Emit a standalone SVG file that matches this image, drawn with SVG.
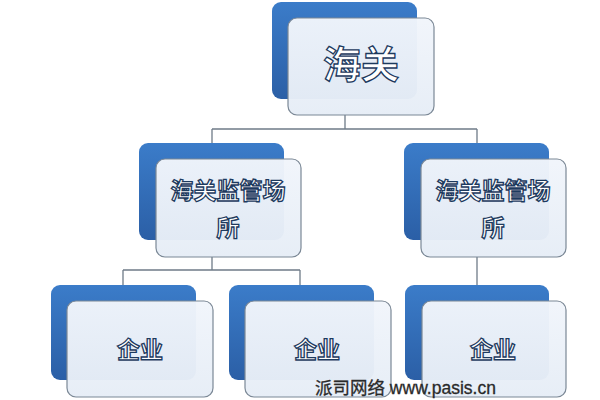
<svg xmlns="http://www.w3.org/2000/svg" width="600" height="400" viewBox="0 0 600 400">
<defs>
<linearGradient id="blue" x1="0" y1="0" x2="0" y2="1">
<stop offset="0" stop-color="#3b7cc9"/>
<stop offset="1" stop-color="#2b5fa6"/>
</linearGradient>
<linearGradient id="front" x1="0" y1="0" x2="0" y2="1">
<stop offset="0" stop-color="#f1f5fb"/>
<stop offset="1" stop-color="#e6edf6"/>
</linearGradient>
</defs>
<style>
.back{fill:url(#blue);}
.face{fill:url(#front);fill-opacity:0.97;stroke:#7b8896;stroke-width:1.2;}
.lbl{font-family:"Noto Sans CJK SC","Noto Sans",sans-serif;font-weight:bold;fill:#ffffff;stroke:#1d3a5e;stroke-width:1.3;text-anchor:middle;}
.conn{fill:none;stroke:#6f7b88;stroke-width:1.3;}
.wm{font-family:"Liberation Sans","Noto Sans CJK SC",sans-serif;font-size:17.5px;fill:#2a2a2a;stroke:#2a2a2a;stroke-width:0.3;}
</style>
<rect width="600" height="400" fill="#ffffff"/>
<g id="connectors">
<path class="conn" d="M345 115 V129 M212 129 H477 M212 129 V143 M477 129 V143"/>
<path class="conn" d="M212 257 V270 M123 270 H300 M123 270 V285 M300 270 V285"/>
<path class="conn" d="M477 257 V285"/>
</g>
<g id="n-haiguan">
<rect class="back" x="272" y="2" width="145" height="97" rx="9"/>
<rect class="face" x="288" y="18" width="146" height="97" rx="9"/>
<text class="lbl" x="361" y="78" font-size="38">海关</text>
</g>
<g id="n-site-left">
<rect class="back" x="139" y="143" width="145" height="97" rx="9"/>
<rect class="face" x="156" y="159" width="145" height="98" rx="9"/>
<text class="lbl" x="228" y="199" font-size="23">海关监管场</text>
<text class="lbl" x="228" y="236" font-size="23">所</text>
</g>
<g id="n-site-right">
<rect class="back" x="404" y="143" width="145" height="97" rx="9"/>
<rect class="face" x="421" y="159" width="145" height="98" rx="9"/>
<text class="lbl" x="493" y="199" font-size="23">海关监管场</text>
<text class="lbl" x="493" y="236" font-size="23">所</text>
</g>
<g id="n-ent-1">
<rect class="back" x="51" y="285" width="145" height="95" rx="9"/>
<rect class="face" x="67" y="301" width="146" height="96" rx="9"/>
<text class="lbl" x="140" y="358" font-size="23">企业</text>
</g>
<g id="n-ent-2">
<rect class="back" x="229" y="285" width="145" height="95" rx="9"/>
<rect class="face" x="245" y="301" width="146" height="96" rx="9"/>
<text class="lbl" x="317" y="358" font-size="23">企业</text>
</g>
<g id="n-ent-3">
<rect class="back" x="405" y="285" width="144" height="95" rx="9"/>
<rect class="face" x="422" y="301" width="144" height="96" rx="9"/>
<text class="lbl" x="493" y="358" font-size="23">企业</text>
</g>
<text class="wm" x="315" y="394">派司网络 www.pasis.cn</text>
</svg>
